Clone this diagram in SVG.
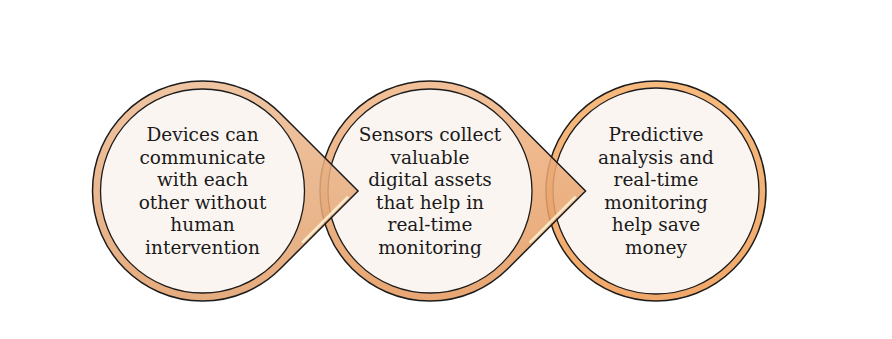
<svg xmlns="http://www.w3.org/2000/svg" width="892" height="339" viewBox="0 0 892 339">
<defs>
<linearGradient id="g1" x1="0" y1="0" x2="0" y2="1">
<stop offset="0" stop-color="#EDBB92"/>
<stop offset="1" stop-color="#E19E69"/>
</linearGradient>
<linearGradient id="g2" x1="0" y1="0" x2="0" y2="1">
<stop offset="0" stop-color="#F0B688"/>
<stop offset="1" stop-color="#E4985C"/>
</linearGradient>
<linearGradient id="g3" x1="0" y1="0" x2="0" y2="1">
<stop offset="0" stop-color="#F6AE68"/>
<stop offset="1" stop-color="#EE9A52"/>
</linearGradient>
<style>
.outer{stroke:#1c1c1c;stroke-width:1.5;fill-opacity:0.86}
.inner{fill:#FBF5F1;stroke:#1c1c1c;stroke-width:1.3}
.hl{stroke:#FBF1D4;stroke-width:2.6;stroke-linecap:round;opacity:0.9}
.t{font-family:"DejaVu Serif","Liberation Serif",serif;font-size:18.5px;fill:#1a1a1a;text-anchor:middle}
</style>
</defs>
<rect width="892" height="339" fill="#ffffff"/>
<g id="connectors"></g>
<g id="node3">
<circle class="outer" cx="656" cy="191" r="110" fill="url(#g3)"/>
<circle class="inner" cx="656" cy="191" r="103"/>
<text class="t" x="656" y="141">Predictive</text>
<text class="t" x="656" y="163.6">analysis and</text>
<text class="t" x="656" y="186.2">real-time</text>
<text class="t" x="656" y="208.8">monitoring</text>
<text class="t" x="656" y="231.4">help save</text>
<text class="t" x="656" y="254">money</text>
</g>
<g id="node2">
<path class="outer" fill="url(#g2)" d="M507.78 113.22 L585.56 191 L507.78 268.78 A110 110 0 1 1 507.78 113.22 Z"/>
<line class="hl" x1="574.9" y1="197.4" x2="530.4" y2="241.9"/>
<circle class="inner" cx="430" cy="191" r="102"/>
<text class="t" x="430" y="141">Sensors collect</text>
<text class="t" x="430" y="163.6">valuable</text>
<text class="t" x="430" y="186.2">digital assets</text>
<text class="t" x="430" y="208.8">that help in</text>
<text class="t" x="430" y="231.4">real-time</text>
<text class="t" x="430" y="254">monitoring</text>
</g>
<g id="node1">
<path class="outer" fill="url(#g1)" d="M280.28 113.22 L358.06 191 L280.28 268.78 A110 110 0 1 1 280.28 113.22 Z"/>
<line class="hl" x1="347.4" y1="197.4" x2="302.9" y2="241.9"/>
<circle class="inner" cx="202.5" cy="191" r="102"/>
<text class="t" x="202.5" y="141">Devices can</text>
<text class="t" x="202.5" y="163.6">communicate</text>
<text class="t" x="202.5" y="186.2">with each</text>
<text class="t" x="202.5" y="208.8">other without</text>
<text class="t" x="202.5" y="231.4">human</text>
<text class="t" x="202.5" y="254">intervention</text>
</g>
</svg>
